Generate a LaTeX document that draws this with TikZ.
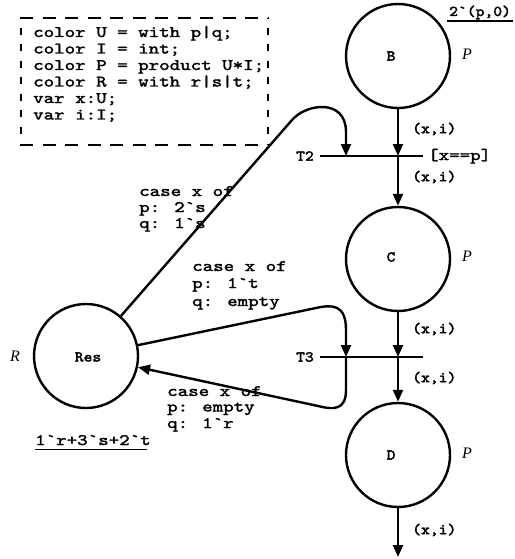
\documentclass[tikz,border=0pt]{standalone}
\usepackage{fontspec}
\usetikzlibrary{arrows.meta}
\newfontfamily\cmono[Extension=.otf,FakeStretch=1.25,FakeBold=2]{lmmono10-regular}
\newfontfamily\lmono[Extension=.otf,FakeStretch=1.12,FakeBold=2.5]{lmmono10-regular}
\newfontfamily\tser{Liberation Serif}
\tikzset{
  place/.style={circle,draw,line width=2.4pt,minimum size=104pt,inner sep=0pt},
  bar/.style={rectangle,fill=black,minimum width=103pt,minimum height=2.6pt,inner sep=0pt},
  arc/.style={line width=2.4pt,-{Triangle[width=10pt,length=12pt]}},
  code/.style={font=\cmono\fontsize{16}{17}\selectfont,inner sep=0pt,anchor=base west},
  lbl/.style={font=\lmono\fontsize{15}{17}\selectfont,inner sep=0pt},
  typ/.style={font=\tser\itshape\fontsize{16}{18}\selectfont,inner sep=0pt},
  boxline/.style={line width=2.8pt},
  ul/.style={line width=1.8pt},
}
\begin{document}
\begin{tikzpicture}[x=1pt,y=-1pt]
\useasboundingbox (0,0) rectangle (514,559);
% declarations box
\draw[boxline,dash pattern=on 13pt off 9.5pt] (20,18) -- (268,18);
\draw[boxline,dash pattern=on 13pt off 9.5pt] (20,145) -- (268,145);
\draw[boxline,dash pattern=on 7pt off 9.5pt,dash phase=-10pt] (21,18) -- (21,145);
\draw[boxline,dash pattern=on 7pt off 9.5pt,dash phase=-10pt] (268,18) -- (268,145);
\node[code] (d1) at (33,37) {color U = with p|q;};
\node[code] (d2) at (33,53.5) {color I = int;};
\node[code] (d3) at (33,70) {color P = product U*I;};
\node[code] (d4) at (33,86.5) {color R = with r|s|t;};
\node[code] (d5) at (33,103) {var x:U;};
\node[code] (d6) at (33,119.5) {var i:I;};
% places
\node[place] (B) at (398,56) {};
\node[place] (C) at (398,259) {};
\node[place] (D) at (398,455) {};
\node[place] (Res) at (86,356) {};
\node[lbl] (Bl) at (391,56) {B};
\node[lbl] (Cl) at (391,257) {C};
\node[lbl] (Dl) at (391,455) {D};
\node[lbl] (Resl) at (88,357) {Res};
\node[typ] (PB) at (467,54) {P};
\node[typ] (PC) at (467,256) {P};
\node[typ] (PD) at (467,453) {P};
\node[typ] (RR) at (15,356) {R};
% initial markings
\node[lbl,anchor=base west] (mB) at (449,16) {2`(p,0)};
\draw[ul] (447,21) -- (513,21);
\node[code] (mR) at (35,445) {1`r+3`s+2`t};
\draw[ul] (35,449.5) -- (147,449.5);
% transitions
\node[bar] (T2) at (371.5,156) {};
\node[bar] (T3) at (371.5,357) {};
\node[lbl,anchor=east] (T2l) at (314,156) {T2};
\node[lbl,anchor=east] (T3l) at (314,357) {T3};
\node[code] (g2) at (428,160) {[x==p]};
\coordinate (t2m) at (398,156);
\coordinate (t2l) at (346,156);
\coordinate (t3m) at (398,357);
\coordinate (t3l) at (346,357);
\coordinate (out) at (398,557);
% vertical arcs
\draw[arc] (B) -- (t2m);
\draw[arc] (t2m) -- (C);
\draw[arc] (C) -- (t3m);
\draw[arc] (t3m) -- (D);
\draw[arc] (D) -- (out);
\node[lbl,anchor=west] (a1) at (412,129) {(x,i)};
\node[lbl,anchor=west] (a2) at (412,177) {(x,i)};
\node[lbl,anchor=west] (a3) at (412,329) {(x,i)};
\node[lbl,anchor=west] (a4) at (412,378) {(x,i)};
\node[lbl,anchor=west] (a5) at (412,530) {(x,i)};
% Res -> T2
\coordinate (k1) at (292,120);
\coordinate (k2) at (346,132);
\draw[arc] (Res) -- (k1) .. controls (306,103.5) and (346,98) .. (k2) -- (t2l);
% Res -> T3
\coordinate (k3) at (316,308);
\coordinate (k4) at (346,330);
\draw[arc] (Res) -- (k3) .. controls (332,304.5) and (346,304) .. (k4) -- (t3l);
% T3 -> Res
\coordinate (k5) at (346,390);
\coordinate (k6) at (318,406);
\draw[arc] (t3l) -- (k5) .. controls (346,410) and (334,410) .. (k6) -- (Res);
% arc inscriptions
\node[code] (e1a) at (139,196) {case x of};
\node[code] (e1b) at (139,212) {p: 2`s};
\node[code] (e1c) at (139,228) {q: 1`s};
\node[code] (e2a) at (192,271) {case x of};
\node[code] (e2b) at (192,288) {p: 1`t};
\node[code] (e2c) at (192,306) {q: empty};
\node[code] (e3a) at (167,396) {case x of};
\node[code] (e3b) at (167,411.5) {p: empty};
\node[code] (e3c) at (167,428) {q: 1`r};
\end{tikzpicture}
\end{document}
